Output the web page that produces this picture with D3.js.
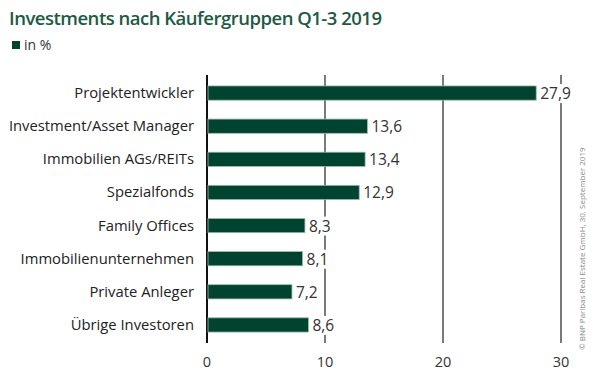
<!DOCTYPE html>
<html>
<head>
<meta charset="utf-8">
<script src="https://cdn.jsdelivr.net/npm/d3@7"></script>
<style>
  body { margin: 0; background: #fff; }
  svg { font-family: "Open Sans", sans-serif; }
</style>
</head>
<body>
<div id="chart"></div>
<script>
const categories = ["Projektentwickler", "Investment/Asset Manager", "Immobilien AGs/REITs",
  "Spezialfonds", "Family Offices", "Immobilienunternehmen", "Private Anleger", "Übrige Investoren"];
const values = [27.9, 13.6, 13.4, 12.9, 8.3, 8.1, 7.2, 8.6];
const ticks = [0, 10, 20, 30];

const svg = d3.select("#chart")
  .append("svg")
  .attr("width", 600)
  .attr("height", 384);

// titel
svg.append("text")
  .attr("x", 9).attr("y", 25)
  .attr("fill", "#1d5a43")
  .attr("font-size", 18.5)
  .attr("font-weight", 600)
  .attr("textLength", 373)
  .text("Investments nach Käufergruppen Q1-3 2019");

svg.append("rect").attr("x", 12).attr("y", 41).attr("width", 8).attr("height", 8).attr("fill", "#00432f");
svg.append("text").attr("x", 24).attr("y", 50).attr("fill", "#333").attr("font-size", 14).text("in %");

const x = d3.scaleLinear().domain([0, 30]).range([207, 561]);
const y = d3.scaleBand().domain(categories).range([76, 342]).paddingInner(0.57).paddingOuter(0.3);

// gitterlinien
svg.append("g").selectAll("line")
  .data(ticks)
  .join("line")
  .attr("x1", d => x(d)).attr("x2", d => x(d))
  .attr("y1", 75).attr("y2", 343)
  .attr("stroke", d => d == 0 ? "#111" : "#333")
  .attr("stroke-width", d => d == 0 ? 2 : 1.3);

svg.append("g").selectAll("text")
  .data(ticks)
  .join("text")
  .attr("x", d => x(d)).attr("y", 367)
  .attr("text-anchor", "middle")
  .attr("fill", "#333")
  .attr("font-size", 14.5)
  .text(d => d);

// balken
svg.append("g").selectAll("rect")
  .data(values)
  .join("rect")
  .attr("x", x(0) + 1)
  .attr("y", (d, i) => y(categories[i]))
  .attr("width", d => x(d) - x(0) - 1)
  .attr("height", y.bandwidth())
  .attr("fill", "#00432f")
  .attr("stroke", "#9dbcb0")
  .attr("stroke-width", 0.8);

// kategorien
svg.append("g").selectAll("text")
  .data(categories)
  .join("text")
  .attr("x", 194)
  .attr("y", d => y(d) + y.bandwidth() / 2 + 5)
  .attr("text-anchor", "end")
  .attr("fill", "#222")
  .attr("font-size", 14.8)
  .text(d => d);

// werte mit weissem hintergrund
const lab = svg.append("g").selectAll("g")
  .data(values)
  .join("g")
  .attr("transform", (d, i) => `translate(${x(d) + 4},${y(categories[i]) + y.bandwidth() / 2})`);

lab.append("rect")
  .attr("x", -1).attr("y", -9)
  .attr("width", d => String(d).length * 7.7 + 2)
  .attr("height", 19)
  .attr("fill", "#fff");

lab.append("text")
  .attr("y", 6)
  .attr("fill", "#333")
  .attr("font-size", 15.5)
  .text(d => String(d).replace(".", ","));

// quelle
svg.append("text")
  .attr("transform", "translate(585,350) rotate(-90)")
  .attr("fill", "#888")
  .attr("font-size", 8)
  .text("© BNP Paribas Real Estate GmbH, 30. September 2019");
</script>
</body>
</html>
